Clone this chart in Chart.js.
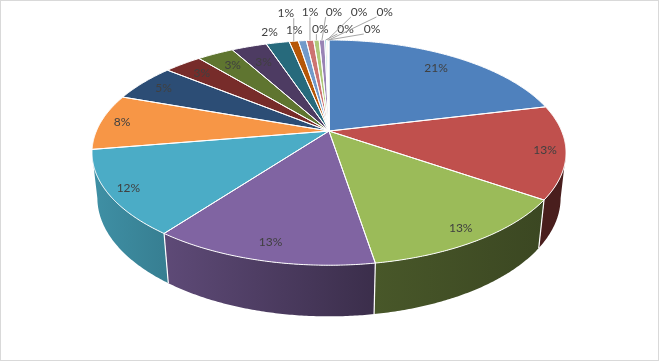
<!DOCTYPE html>
<html>
<head>
<meta charset="utf-8">
<script src="https://cdn.jsdelivr.net/npm/chart.js@4.4.1/dist/chart.umd.min.js"></script>
<style>
  html, body { margin: 0; padding: 0; background: #fff; overflow: hidden; }
</style>
</head>
<body>
<canvas id="chart-pie" width="659" height="361"></canvas>
<script>
/* Data */
const categories = ['Item 1', 'Item 2', 'Item 3', 'Item 4', 'Item 5', 'Item 6', 'Item 7',
    'Item 8', 'Item 9', 'Item 10', 'Item 11', 'Item 12', 'Item 13', 'Item 14', 'Item 15',
    'Item 16', 'Item 17', 'Item 18', 'Item 19', 'Item 20'];
const shares = [21.2, 13.3, 12.8, 12.8, 12.1, 8.0, 5.4, 3.1, 3.0, 2.9,
    1.9, 0.75, 0.65, 0.6, 0.45, 0.45, 0.15, 0.1, 0.05, 0.05];

/* Excel 2010 style palette */
const sliceColors = ['#4F81BD', '#C0504D', '#9BBB59', '#8064A2', '#4BACC6', '#F79646',
    '#2C4D75', '#772C2A', '#5F7530', '#4D3B62', '#276A7C', '#B65708',
    '#729ACA', '#CD7371', '#AFC97A', '#9983B5', '#6FBDD1', '#F9AB6B', '#3A6497', '#963C3A'];

// 3D view of the pie (radius = 1)
const view = { tilt: 27.8 * Math.PI / 180, dist: 4.62, depth: 0.221 };

function darken(hex, k) {
    const n = parseInt(hex.slice(1), 16);
    const r = Math.round(((n >> 16) & 255) * k);
    const g = Math.round(((n >> 8) & 255) * k);
    const b = Math.round((n & 255) * k);
    return 'rgb(' + r + ',' + g + ',' + b + ')';
}

// light comes from the left, the right side of the wall gets dark
function wallShade(nx) {
    return nx < 0 ? 0.58 - 0.26 * nx : Math.max(0.38, 0.56 - 0.6 * nx);
}

function makeProjector(area) {
    const s = Math.sin(view.tilt), c = Math.cos(view.tilt), D = view.dist;
    const raw = (x, y, z) => {
        const d = D + y * c - z * s;
        return [x / d, -(y * s + z * c) / d];
    };
    let wmax = 0;
    for (let a = 0; a < 360; a += 0.5) {
        const t = a * Math.PI / 180;
        wmax = Math.max(wmax, raw(Math.sin(t), Math.cos(t), 0)[0]);
    }
    const f = (area.right - area.left) / 2 / wmax;
    const cx = (area.left + area.right) / 2;
    const cy = area.top - f * raw(0, 1, 0)[1];
    return (theta, r, z) => {
        const p = raw(r * Math.sin(theta), r * Math.cos(theta), z);
        return [cx + f * p[0], cy + f * p[1]];
    };
}

function arcPath(ctx, proj, a0, a1, z, start) {
    const n = Math.max(2, Math.ceil(Math.abs(a1 - a0) / (Math.PI / 360)));
    for (let k = 0; k <= n; k++) {
        const p = proj(a0 + (a1 - a0) * k / n, 1, z);
        if (start && k === 0) ctx.moveTo(p[0], p[1]);
        else ctx.lineTo(p[0], p[1]);
    }
}

const pie3d = {
    id: 'pie3d',
    beforeDraw(chart) {
        const ctx = chart.ctx;
        ctx.save();
        ctx.fillStyle = '#fff';
        ctx.fillRect(0, 0, chart.width, chart.height);
        ctx.strokeStyle = '#D9D9D9';
        ctx.lineWidth = 1;
        ctx.strokeRect(0.5, 0.5, chart.width - 1, chart.height - 1);
        ctx.restore();
    },
    beforeDatasetsDraw(chart) {
        const ctx = chart.ctx;
        const meta = chart.getDatasetMeta(0);
        const proj = makeProjector(chart.chartArea);
        const h = view.depth;
        const total = shares.reduce((a, b) => a + b, 0);
        const arcs = meta.data.map((el, i) => ({
            a0: el.startAngle + Math.PI / 2,
            a1: el.endAngle + Math.PI / 2,
            color: el.options.backgroundColor,
            i: i
        }));

        ctx.save();
        // side walls: only the part that faces the viewer
        const front = Math.acos(-Math.cos(view.tilt) / view.dist);
        arcs.forEach(a => {
            const lo = Math.max(a.a0, front), hi = Math.min(a.a1, 2 * Math.PI - front);
            if (hi <= lo) return;
            const xr = proj(lo, 1, 0)[0], xl = proj(hi, 1, 0)[0];
            const grad = ctx.createLinearGradient(xl, 0, xr, 0);
            grad.addColorStop(0, darken(a.color, wallShade(Math.sin(hi))));
            grad.addColorStop(1, darken(a.color, wallShade(Math.sin(lo))));
            ctx.beginPath();
            arcPath(ctx, proj, lo, hi, 0, true);
            arcPath(ctx, proj, hi, lo, -h, false);
            ctx.closePath();
            ctx.fillStyle = grad;
            ctx.fill();
        });
        // white edges between walls
        ctx.strokeStyle = '#fff';
        ctx.lineWidth = 1.2;
        arcs.forEach(a => {
            if (a.a0 > front && a.a0 < 2 * Math.PI - front) {
                const p = proj(a.a0, 1, 0), q = proj(a.a0, 1, -h);
                ctx.beginPath();
                ctx.moveTo(p[0], p[1]);
                ctx.lineTo(q[0], q[1]);
                ctx.stroke();
            }
        });

        // top face
        const apex = proj(0, 0, 0);
        arcs.forEach(a => {
            ctx.beginPath();
            ctx.moveTo(apex[0], apex[1]);
            arcPath(ctx, proj, a.a0, a.a1, 0, false);
            ctx.closePath();
            ctx.fillStyle = a.color;
            ctx.fill();
        });
        ctx.strokeStyle = '#fff';
        ctx.lineWidth = 1;
        ctx.lineJoin = 'round';
        arcs.forEach(a => {
            ctx.beginPath();
            ctx.moveTo(apex[0], apex[1]);
            arcPath(ctx, proj, a.a0, a.a1, 0, false);
            ctx.closePath();
            ctx.stroke();
        });

        // data labels
        ctx.font = '12px Lato';
        ctx.textAlign = 'center';
        ctx.textBaseline = 'middle';
        const placed = [];
        const hit = (b) => placed.some(o => b.l < o.r && b.r > o.l && b.t < o.b && b.b > o.t);
        arcs.forEach(a => {
            const v = shares[a.i];
            const txt = Math.round(v / total * 100) + '%';
            const tm = (a.a0 + a.a1) / 2;
            const edge = proj(tm, 1, 0);
            if (v / total >= 0.025) {
                let dx = apex[0] - edge[0], dy = apex[1] - edge[1];
                const len = Math.hypot(dx, dy);
                dx /= len; dy /= len;
                ctx.fillStyle = '#404040';
                ctx.fillText(txt, edge[0] + dx * 21, edge[1] + dy * 21);
                return;
            }
            // small slices: outside, pushed along until free
            const w = ctx.measureText(txt).width + 6, bh = 14;
            const x0 = edge[0] - 8, rows = [edge[1] - 11, edge[1] - 28];
            let box = null;
            for (let sh = 0; sh <= 160 && !box; sh += 4) {
                for (const y of rows) {
                    const b = { l: x0 + sh - w / 2, r: x0 + sh + w / 2, t: y - bh / 2, b: y + bh / 2, x: x0 + sh, y: y };
                    if (!hit(b)) { box = b; break; }
                }
            }
            placed.push(box);
            if (Math.hypot(box.x - x0, box.y - rows[0]) > 6) {
                const lx = Math.min(Math.max(edge[0], box.l + 3), box.r - 3);
                ctx.strokeStyle = '#A6A6A6';
                ctx.lineWidth = 1;
                ctx.beginPath();
                ctx.moveTo(lx, box.b - 2);
                ctx.lineTo(edge[0], edge[1]);
                ctx.stroke();
            }
            ctx.fillStyle = '#404040';
            ctx.fillText(txt, box.x, box.y);
        });
        ctx.restore();
        return false;
    }
};

new Chart(document.getElementById('chart-pie'), {
    type: 'pie',
    data: {
        labels: categories,
        datasets: [{ data: shares, backgroundColor: sliceColors, borderWidth: 0 }]
    },
    options: {
        responsive: false,
        animation: false,
        devicePixelRatio: 1,
        layout: { padding: { left: 92, right: 93, top: 40, bottom: 43 } },
        plugins: { legend: { display: false }, tooltip: { enabled: false } }
    },
    plugins: [pie3d]
});
</script>
</body>
</html>
